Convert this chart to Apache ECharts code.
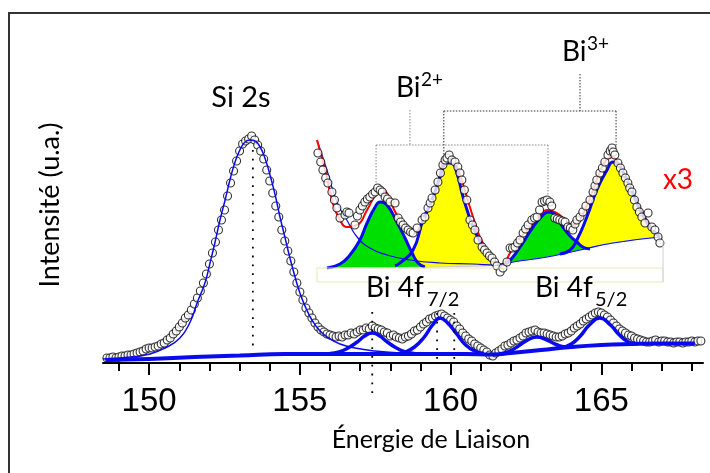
<!DOCTYPE html>
<html><head><meta charset="utf-8">
<script src="https://cdn.jsdelivr.net/npm/echarts@6/dist/echarts.min.js"></script>
<style>html,body{margin:0;padding:0;background:#fff}#c{width:710px;height:473px}</style>
</head><body><div id="c"></div>
<script>
// ---------- main spectrum (binding energy eV, intensity a.u.) ----------
const energy = [
148.6,148.7,148.8,148.9,149.0,149.1,149.2,149.3,149.4,149.5,
149.6,149.7,149.8,149.9,150.0,150.1,150.2,150.3,150.4,150.5,
150.6,150.7,150.8,150.9,151.0,151.1,151.2,151.3,151.4,151.5,
151.6,151.7,151.8,151.9,152.0,152.1,152.2,152.3,152.4,152.5,
152.6,152.7,152.8,152.9,153.0,153.1,153.2,153.3,153.4,153.5,
153.6,153.7,153.8,153.9,154.0,154.1,154.2,154.3,154.4,154.5,
154.6,154.7,154.8,154.9,155.0,155.1,155.2,155.3,155.4,155.5,
155.6,155.7,155.8,155.9,156.0,156.1,156.2,156.3,156.4,156.5,
156.6,156.7,156.8,156.9,157.0,157.1,157.2,157.3,157.4,157.5,
157.6,157.7,157.8,157.9,158.0,158.1,158.2,158.3,158.4,158.5,
158.6,158.7,158.8,158.9,159.0,159.1,159.2,159.3,159.4,159.5,
159.6,159.7,159.8,159.9,160.0,160.1,160.2,160.3,160.4,160.5,
160.6,160.7,160.8,160.9,161.0,161.1,161.2,161.3,161.4,161.5,
161.6,161.7,161.8,161.9,162.0,162.1,162.2,162.3,162.4,162.5,
162.6,162.7,162.8,162.9,163.0,163.1,163.2,163.3,163.4,163.5,
163.6,163.7,163.8,163.9,164.0,164.1,164.2,164.3,164.4,164.5,
164.6,164.7,164.8,164.9,165.0,165.1,165.2,165.3,165.4,165.5,
165.6,165.7,165.8,165.9,166.0,166.1,166.2,166.3,166.4,166.5,
166.6,166.7,166.8,166.9,167.0,167.1,167.2,167.3,167.4,167.5,
167.6,167.7,167.8,167.9,168.0,168.1,168.2,168.3];
const counts = [
5,5,6,5,6,7,7,8,8,9,
10,11,12,14,15,15,16,17,19,20,
23,25,29,32,36,40,45,48,53,59,
65,72,80,89,99,110,121,133,143,153,
167,180,192,202,212,219,222,224,227,223,
218,212,204,193,182,170,157,146,133,122,
112,102,91,80,71,63,55,50,45,40,
36,33,31,29,28,27,26,27,26,28,
28,30,29,31,33,33,35,34,37,35,
34,33,31,30,27,28,26,25,24,26,
27,29,32,33,36,39,41,44,45,47,
48,49,47,45,43,41,37,34,30,27,
24,22,19,17,15,13,11,8,7,10,
12,14,17,18,20,22,23,25,27,30,
31,32,33,31,30,30,29,28,27,26,
26,27,29,30,32,35,37,39,42,44,
46,48,50,51,50,48,46,43,40,37,
34,32,30,28,27,25,24,23,22,21,
21,22,23,21,22,22,21,21,20,21,
21,20,21,21,22,21,22,22];

const siFit = [[148.47,4],[149.37,6],[150.03,9],[150.53,15],[151.02,25],[151.36,41],[151.59,60],[151.85,80],[152.02,100],[152.18,120],[152.35,143],[152.52,163],[152.68,183],[152.85,201],[153.01,213],[153.18,221],[153.35,223],[153.51,222],[153.68,216],[153.84,205],[154.01,188],[154.18,168],[154.34,146],[154.51,125],[154.67,105],[154.84,86],[155.0,70],[155.2,55],[155.4,43],[155.67,32],[156.0,24],[156.33,19],[156.83,15],[157.49,12],[158.32,10],[159.31,9]];
const baseline = [[148.55,3],[150.0,4],[151.5,6],[153.0,7.5],[154.5,9],[156.0,9],[157.5,9],[159.0,9],[160.5,9],[161.4,8.5],[162.0,10],[163.0,13],[164.0,16],[165.0,18],[166.0,19],[167.0,19.5],[168.1,19.5]];
const bi2f72 = [[156.0,9.5],[156.3,11],[156.6,15],[156.9,21],[157.15,27],[157.4,30],[157.65,27],[157.9,21],[158.2,15],[158.5,11],[158.8,9.5]];
const bi3f72 = [[158.2,9],[158.5,11],[158.8,16],[159.1,25],[159.4,38],[159.65,45],[159.9,40],[160.2,29],[160.5,18],[160.8,12],[161.1,9.5]];
const bi2f52 = [[161.6,9],[161.9,11],[162.2,16],[162.5,22],[162.85,26],[163.2,23],[163.5,18.5],[163.8,16],[164.1,16]];
const bi3f52 = [[163.7,15.5],[164.0,19],[164.3,27],[164.6,38],[164.95,45],[165.3,38],[165.6,28],[165.9,21],[166.2,19]];
const guideLines = [
  [[153.44,213],[153.44,11]],
  [[157.4,51],[157.4,-32]],
  [[159.55,50],[159.55,-2]],
  [[160.12,50],[160.12,-2]]
];
const majorTicks = [150,155,160,165];
const minorTicks = [149,151,152,153,154,156,157,158,159,161,162,163,164,166,167,168];

// ---------- inset (x3 magnified Bi 4f region) ----------
const insetPts = [[155.43,115],[155.52,106],[155.59,98],[155.68,90],[155.75,85],[155.88,76],[155.96,68],[156.04,60],[156.14,50],[156.30,53],[156.36,56],[156.43,55],[156.62,43],[156.70,52],[156.78,58],[156.86,62],[156.94,66],[157.02,69],[157.10,71],[157.19,74],[157.27,76],[157.35,80],[157.43,78],[157.5,76],[157.59,71],[157.67,69],[157.75,66],[157.91,65],[158.01,50],[158.09,46],[158.17,43],[158.25,40],[158.33,38],[158.41,36],[158.49,35],[158.62,40],[158.78,48],[158.87,51],[158.97,60],[159.04,65],[159.10,70],[159.20,78],[159.29,86],[159.37,95],[159.45,103],[159.52,108],[159.58,110],[159.65,113],[159.74,108],[159.84,106],[159.93,101],[160.0,95],[160.06,88],[160.14,78],[160.22,68],[160.32,48],[160.40,43],[160.48,38],[160.58,28],[160.71,21],[160.79,18],[160.87,15],[160.95,12],[161.03,10],[161.11,6],[161.19,2],[161.29,-4],[161.38,0],[161.51,6],[161.61,20],[161.69,20],[161.77,21],[161.85,25],[161.93,28],[162.03,35],[162.11,39],[162.19,43],[162.31,48],[162.40,50],[162.48,51],[162.56,58],[162.64,66],[162.72,67],[162.80,68],[162.89,66],[162.95,62],[163.05,50],[163.13,49],[163.21,48],[163.30,47],[163.38,46],[163.47,41],[163.55,40],[163.63,38],[163.70,44],[163.76,48],[163.86,51],[163.95,56],[164.05,62],[164.18,68],[164.28,76],[164.34,82],[164.40,88],[164.50,95],[164.58,100],[164.66,106],[164.76,113],[164.83,117],[164.89,120],[164.93,116],[164.98,113],[165.08,105],[165.16,100],[165.24,95],[165.32,90],[165.40,85],[165.46,80],[165.53,76],[165.61,68],[165.69,61],[165.77,56],[165.85,51],[165.95,45],[166.05,55],[166.17,41],[166.27,38],[166.37,31],[166.43,25]];
const insetEnvelope = [[155.40,128],[155.66,98],[155.91,65],[156.14,48],[156.36,41],[156.69,43],[157.01,58],[157.27,73],[157.43,80],[157.65,75],[157.84,61],[158.07,48],[158.29,41],[158.55,35],[158.74,43],[158.94,55],[159.10,70],[159.26,81],[159.42,103],[159.58,111],[159.77,108],[160.0,93],[160.22,71],[160.45,48],[160.64,31],[160.87,18],[161.06,8],[161.29,3],[161.45,6],[161.61,15],[161.93,30],[162.25,41],[162.57,53],[162.80,58],[163.12,55],[163.38,48],[163.60,43],[163.79,46],[164.02,58],[164.28,78],[164.50,96],[164.70,108],[164.89,111],[165.08,106],[165.31,93],[165.53,78],[165.79,60],[166.11,43],[166.43,31]];
const insetSiTail = [[155.40,128],[155.72,98],[156.04,66],[156.36,48],[156.69,31],[157.10,20],[157.65,13],[158.39,8],[159.36,5],[160.42,4],[161.19,3],[161.70,6],[162.80,11],[163.86,18],[164.92,25],[166.43,31]];
const insetBiBg = [[155.7,0],[158.0,0.5],[160.0,1.5],[161.2,3],[161.7,6],[162.8,11],[163.86,18],[164.92,25],[166.43,31]];
const insetBi2f72 = [[155.72,0],[156.14,4],[156.46,13],[156.78,28],[157.01,45],[157.27,61],[157.43,66],[157.65,63],[157.97,46],[158.23,30],[158.46,15],[158.65,5],[158.87,1]];
const insetBi3f72 = [[157.91,2],[158.07,5],[158.49,18],[158.81,48],[159.10,68],[159.36,91],[159.58,105],[159.74,105],[159.90,95],[160.10,71],[160.42,41],[160.74,21],[161.06,8],[161.25,3]];
const insetBi2f52 = [[161.29,3],[161.51,5],[161.93,21],[162.35,41],[162.67,53],[162.83,56],[162.99,55],[163.31,41],[163.54,32],[163.76,26],[163.95,21],[164.18,19]];
const insetBi3f52 = [[163.21,14],[163.54,18],[163.76,28],[164.08,51],[164.40,78],[164.73,98],[164.92,106],[165.14,101],[165.47,81],[165.79,58],[166.11,41],[166.43,31]];
const bracketBi2 = [[[158.39,158],[158.39,123]],[[157.30,123],[162.83,123]],[[157.30,123],[157.30,80]],[[162.83,123],[162.83,73]]];
const bracketBi3 = [[[163.86,194],[163.86,157]],[[159.48,157],[165.02,157]],[[159.48,157],[159.48,111]],[[165.02,157],[165.02,121]]];

const BLUE = '#0a0aee';
function line(data, opt) {
  return Object.assign({type:'line', data:data, showSymbol:false, symbol:'none', smooth:true, silent:true, animation:false}, opt);
}
const series = [];
// main
series.push({type:'scatter', xAxisIndex:0, yAxisIndex:0, data: energy.map((e,i)=>[e,counts[i]]), symbol:'circle', symbolSize:8,
  itemStyle:{color:'#fff', borderColor:'#000', borderWidth:1.1}, z:2, silent:true, animation:false});
series.push(line(siFit, {xAxisIndex:0, yAxisIndex:0, lineStyle:{color:BLUE, width:1.5}, z:3}));
series.push(line(baseline, {xAxisIndex:0, yAxisIndex:0, lineStyle:{color:BLUE, width:4}, z:3}));
[bi2f72, bi3f72, bi2f52, bi3f52].forEach(d => series.push(line(d, {xAxisIndex:0, yAxisIndex:0, lineStyle:{color:BLUE, width:3.5}, z:3})));
guideLines.forEach(d => series.push(line(d, {xAxisIndex:0, yAxisIndex:0, smooth:false, clip:false, lineStyle:{color:'#000', width:1.8, type:[1.8,7]}, z:4})));
// inset
series.push(line(insetBi3f72, {xAxisIndex:2, yAxisIndex:1, areaStyle:{color:'#ffff00', opacity:1, origin:'start'}, lineStyle:{width:0}, z:5}));
series.push(line(insetBi3f52, {xAxisIndex:2, yAxisIndex:1, areaStyle:{color:'#ffff00', opacity:1, origin:'start'}, lineStyle:{width:0}, z:5}));
series.push(line(insetBi2f72, {xAxisIndex:2, yAxisIndex:1, areaStyle:{color:'#00e000', opacity:1, origin:'start'}, lineStyle:{width:0}, z:5}));
series.push(line(insetBi2f52, {xAxisIndex:2, yAxisIndex:1, areaStyle:{color:'#00e000', opacity:1, origin:'start'}, lineStyle:{width:0}, z:5}));
series.push(line(insetBiBg, {xAxisIndex:2, yAxisIndex:1, areaStyle:{color:'#ffffff', opacity:1, origin:'start'}, lineStyle:{color:'#c8c8e0', width:1}, z:5}));
series.push(line(insetSiTail, {xAxisIndex:2, yAxisIndex:1, lineStyle:{color:BLUE, width:1.2}, z:6}));
series.push(line(insetEnvelope, {xAxisIndex:2, yAxisIndex:1, lineStyle:{color:'#ff0000', width:2}, z:6}));
[insetBi2f72, insetBi3f72, insetBi2f52, insetBi3f52].forEach(d => series.push(line(d, {xAxisIndex:2, yAxisIndex:1, lineStyle:{color:BLUE, width:3}, z:7})));
series.push({type:'scatter', xAxisIndex:2, yAxisIndex:1, data: insetPts, symbol:'circle', symbolSize:8, clip:false,
  itemStyle:{color:'#fff', borderColor:'#000', borderWidth:1.1}, z:8, silent:true, animation:false});
bracketBi2.forEach(d => series.push(line(d, {xAxisIndex:2, yAxisIndex:1, smooth:false, clip:false, lineStyle:{color:'#888', width:1, type:[1.5,1.5]}, z:4})));
bracketBi3.forEach(d => series.push(line(d, {xAxisIndex:2, yAxisIndex:1, smooth:false, clip:false, lineStyle:{color:'#333', width:1, type:[1.5,1.5]}, z:4})));

const TXT = 'Lato';
const chart = echarts.init(document.getElementById('c'), null, {renderer:'canvas'});
chart.setOption({
  animation:false,
  backgroundColor:'#fff',
  grid:[
    {left:103, right:7, top:13, bottom:110},
    {left:317, right:47, top:40, bottom:205}
  ],
  xAxis:[
    {gridIndex:0, type:'value', min:148.47, max:168.37, position:'bottom',
     axisLine:{show:true, lineStyle:{color:'#000', width:2}},
     axisTick:{show:true, customValues:majorTicks, length:12, lineStyle:{color:'#000', width:2}},
     axisLabel:{show:true, customValues:majorTicks, color:'#000', fontSize:33, fontFamily:'Liberation Sans', margin:22},
     splitLine:{show:false}},
    {gridIndex:0, type:'value', min:148.47, max:168.37, position:'bottom',
     axisLine:{show:false},
     axisTick:{show:true, customValues:minorTicks, length:8, lineStyle:{color:'#000', width:2}},
     axisLabel:{show:false}, splitLine:{show:false}},
    {gridIndex:1, type:'value', min:155.4, max:166.53, show:false}
  ],
  yAxis:[
    {gridIndex:0, type:'value', min:0, max:350, show:false},
    {gridIndex:1, type:'value', min:0, max:228, show:false}
  ],
  series: series,
  graphic:[
    {type:'rect', shape:{x:9, y:13, width:760, height:500}, style:{fill:null, stroke:'#333', lineWidth:2}, z:0, silent:true},
    {type:'rect', shape:{x:317, y:268, width:346, height:14}, style:{fill:null, stroke:'#e8e8b8', lineWidth:1}, z:10, silent:true},
    {type:'line', shape:{x1:663, y1:240, x2:663, y2:282}, style:{stroke:'#cfcfcf', lineWidth:1}, z:10, silent:true},
    {type:'text', x:241, y:98, style:{text:'Si 2s', font:'29px '+TXT, fill:'#000', textAlign:'center', textVerticalAlign:'middle'}, z:20},
    {type:'text', x:366, y:288, style:{text:'Bi 4f', font:'28px '+TXT, fill:'#000', textAlign:'left', textVerticalAlign:'middle'}, z:20},
    {type:'text', x:427, y:300, style:{text:'7/2', font:'20px '+TXT, fill:'#000', textAlign:'left', textVerticalAlign:'middle'}, z:20},
    {type:'text', x:535, y:288, style:{text:'Bi 4f', font:'28px '+TXT, fill:'#000', textAlign:'left', textVerticalAlign:'middle'}, z:20},
    {type:'text', x:595, y:300, style:{text:'5/2', font:'20px '+TXT, fill:'#000', textAlign:'left', textVerticalAlign:'middle'}, z:20},
    {type:'text', x:396, y:88, style:{text:'Bi', font:'28px '+TXT, fill:'#000', textAlign:'left', textVerticalAlign:'middle'}, z:20},
    {type:'text', x:421, y:80, style:{text:'2+', font:'19px '+TXT, fill:'#000', textAlign:'left', textVerticalAlign:'middle'}, z:20},
    {type:'text', x:562, y:52, style:{text:'Bi', font:'28px '+TXT, fill:'#000', textAlign:'left', textVerticalAlign:'middle'}, z:20},
    {type:'text', x:587, y:44, style:{text:'3+', font:'19px '+TXT, fill:'#000', textAlign:'left', textVerticalAlign:'middle'}, z:20},
    {type:'text', x:678, y:180, style:{text:'x3', font:'28px '+TXT, fill:'#ff0000', textAlign:'center', textVerticalAlign:'middle'}, z:20},
    {type:'text', x:50, y:205, rotation:Math.PI/2, style:{text:'Intensité (u.a.)', font:'27px '+TXT, fill:'#000', textAlign:'center', textVerticalAlign:'middle'}, z:20},
    {type:'text', x:431, y:440, style:{text:'Énergie de Liaison', font:'25px '+TXT, fill:'#000', textAlign:'center', textVerticalAlign:'middle'}, z:20}
  ]
});
</script></body></html>
